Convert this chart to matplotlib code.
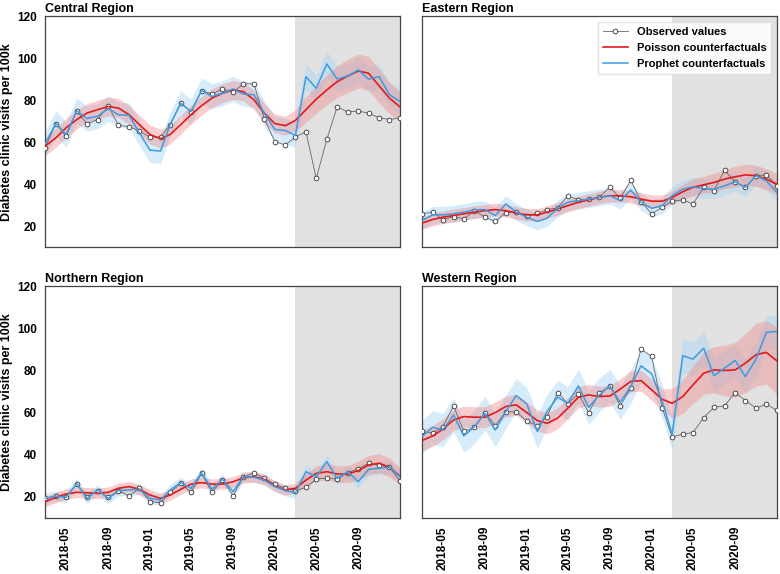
import numpy as np
import pandas as pd
import matplotlib
matplotlib.use("Agg")
import matplotlib.pyplot as plt
import matplotlib.dates as mdates

plt.rcParams['font.family'] = ['Liberation Sans', 'DejaVu Sans']
plt.rcParams['font.weight'] = 'bold'

# monthly dates, 2018-03 .. 2021-01
dates = pd.date_range("2018-03-01", periods=35, freq="MS")
intervention = pd.Timestamp("2020-03-01")
tick_dates = pd.date_range("2018-05-01", "2020-09-01", freq="4MS")

regions = ["Central Region", "Eastern Region", "Northern Region", "Western Region"]

# observed values
central_obs = [57.4, 68.9, 62.8, 75.0, 68.7, 70.8, 77.4, 68.0, 67.5, 65.3, 62.5, 62.5, 68.4, 78.6, 74.6,
               84.6, 82.9, 85.4, 83.8, 87.8, 87.8, 71.3, 60.3, 58.7, 62.6, 65.0, 42.8, 61.4, 76.8, 74.4,
               74.9, 73.8, 71.7, 70.8, 71.6]
eastern_obs = [26.0, 26.8, 23.2, 24.7, 23.6, 27.5, 24.4, 22.4, 26.6, 27.1, 24.9, 26.3, 28.0, 28.8, 34.6,
               32.6, 33.0, 33.8, 38.8, 33.3, 42.0, 31.8, 26.0, 29.1, 32.0, 32.6, 30.7, 38.6, 37.0, 46.7,
               41.2, 38.6, 44.1, 44.5, 39.3]
northern_obs = [19.2, 20.5, 20.0, 26.0, 20.0, 22.9, 19.7, 22.9, 20.3, 24.0, 17.6, 17.1, 22.1, 26.3, 22.1,
                31.1, 22.1, 27.9, 20.5, 29.2, 31.4, 28.7, 26.0, 24.0, 22.9, 24.4, 28.3, 29.0, 28.3, 31.4,
                33.3, 35.9, 35.1, 34.0, 27.5]
western_obs = [51.0, 50.2, 53.3, 63.2, 51.0, 53.0, 60.0, 53.8, 60.5, 60.2, 56.0, 53.7, 58.1, 69.5, 64.3,
               68.9, 60.0, 69.2, 72.7, 63.2, 71.6, 90.2, 86.7, 62.1, 48.3, 49.8, 50.5, 57.6, 62.5, 63.2,
               69.5, 65.7, 62.1, 64.1, 61.0]

# Poisson counterfactuals
central_poisson = [58.2, 62.1, 66.9, 70.8, 73.9, 75.5, 77.0, 76.3, 73.1, 68.4, 63.7, 61.7, 63.7, 68.4, 73.1,
                   77.4, 81.0, 83.3, 84.9, 84.1, 80.2, 73.9, 68.9, 67.9, 70.4, 75.5, 80.5, 84.9, 88.8, 91.5,
                   93.9, 92.8, 86.8, 81.0, 76.8]
eastern_poisson = [21.6, 23.3, 24.4, 25.2, 26.0, 26.8, 27.5, 28.0, 27.5, 26.4, 25.5, 25.5, 26.8, 28.3, 29.9,
                   31.5, 32.6, 33.8, 34.6, 34.6, 34.1, 33.0, 32.0, 32.0, 33.8, 36.5, 38.6, 39.8, 40.9, 42.5,
                   43.6, 44.5, 44.1, 42.5, 40.1]
northern_poisson = [17.6, 19.7, 21.3, 22.1, 21.9, 21.6, 22.1, 24.0, 24.8, 23.5, 20.8, 19.2, 20.8, 23.5, 26.0,
                    26.7, 26.0, 26.0, 27.1, 29.0, 29.5, 28.3, 25.1, 23.2, 24.0, 27.9, 31.1, 31.9, 30.8, 30.8,
                    32.4, 35.1, 35.9, 34.0, 29.8]
western_poisson = [46.7, 48.9, 52.1, 56.5, 58.1, 57.8, 57.8, 60.0, 62.9, 63.7, 60.0, 56.2, 54.9, 57.3, 62.1,
                   67.3, 68.4, 67.6, 67.9, 71.1, 74.8, 75.2, 70.8, 66.3, 64.4, 67.6, 73.2, 78.7, 80.3, 80.0,
                   80.3, 83.5, 87.5, 88.6, 84.6]

# Prophet counterfactuals
central_prophet = [59.3, 69.0, 63.7, 75.0, 71.3, 72.4, 76.0, 73.1, 72.8, 64.5, 56.3, 55.8, 68.4, 78.6, 74.6,
                   84.6, 81.8, 83.3, 85.4, 82.9, 82.6, 73.9, 66.1, 65.6, 63.2, 91.2, 85.7, 97.2, 90.1, 91.5,
                   94.4, 90.0, 91.2, 82.6, 79.4]
eastern_prophet = [22.8, 25.5, 25.5, 26.0, 26.8, 27.9, 28.0, 25.2, 30.7, 26.8, 24.4, 22.4, 23.9, 28.6, 31.5,
                   32.3, 33.0, 33.8, 34.6, 32.3, 37.3, 31.5, 28.6, 29.9, 34.6, 37.7, 38.8, 38.0, 37.7, 39.3,
                   41.2, 38.6, 44.1, 41.7, 36.2]
northern_prophet = [19.2, 20.3, 19.7, 26.3, 19.2, 23.2, 19.2, 22.9, 23.2, 23.5, 19.2, 18.4, 23.2, 26.7, 24.0,
                    31.4, 23.5, 28.3, 22.4, 29.5, 29.2, 27.9, 24.8, 22.9, 21.9, 31.9, 29.5, 36.7, 28.7, 31.9,
                    27.1, 33.0, 33.5, 34.0, 29.5]
western_prophet = [48.6, 53.0, 51.7, 58.9, 48.9, 53.3, 59.7, 51.7, 60.5, 68.1, 64.1, 51.0, 60.5, 67.3, 64.4,
                   72.7, 62.4, 68.4, 72.7, 64.9, 72.4, 82.2, 78.4, 65.2, 49.8, 87.0, 85.4, 90.6, 77.5, 81.1,
                   84.8, 77.1, 85.4, 98.1, 98.6]

# interval half-widths: Poisson (pre scalar, post per month), Prophet (pre, post)
poisson_hw_pre = [4.5, 3.0, 2.5, 5.0]
central_poisson_hw_post = [5.0, 6.0, 6.5, 7.0, 7.5, 8.0, 8.0, 8.0, 8.0, 7.5, 7.0]
eastern_poisson_hw_post = [3.0, 3.5, 4.0, 4.0, 4.5, 4.5, 5.0, 5.0, 5.0, 5.0, 5.0]
northern_poisson_hw_post = [2.5, 3.0, 3.5, 4.0, 4.0, 4.0, 4.5, 4.5, 4.5, 4.5, 4.0]
western_poisson_hw_post = [7.0, 8.0, 9.0, 10.0, 11.0, 12.0, 13.0, 14.0, 15.0, 15.0, 16.0]
prophet_hw = [(6.0, 6.0), (4.0, 4.5), (2.5, 3.0), (8.0, 8.0)]

obs_all = [central_obs, eastern_obs, northern_obs, western_obs]
poisson_all = [central_poisson, eastern_poisson, northern_poisson, western_poisson]
prophet_all = [central_prophet, eastern_prophet, northern_prophet, western_prophet]
poisson_post_all = [central_poisson_hw_post, eastern_poisson_hw_post,
                    northern_poisson_hw_post, western_poisson_hw_post]

red = "#e3191c"
blue = "#3d9be0"

fig, axes = plt.subplots(2, 2, figsize=(7.8, 5.74), dpi=100, sharex=True, sharey=True)
fig.subplots_adjust(left=0.058, right=0.996, top=0.972, bottom=0.098, wspace=0.062, hspace=0.168)

pre = dates < intervention
n_pre = int(pre.sum())

for i, ax in enumerate(axes.flat):
    obs = np.array(obs_all[i])
    pois = np.array(poisson_all[i])
    prop = np.array(prophet_all[i])

    # post-intervention shading
    ax.axvspan(intervention, dates[-1], color="#e1e1e1", lw=0, zorder=0)

    # interval widths
    p_hw = np.concatenate([np.full(n_pre, poisson_hw_pre[i]), poisson_post_all[i]])
    f_hw = np.where(pre, prophet_hw[i][0], prophet_hw[i][1])

    ax.fill_between(dates, prop - f_hw, prop + f_hw, color="#a8d6f5", alpha=0.45, lw=0, zorder=1)
    ax.fill_between(dates, pois - p_hw, pois + p_hw, color="#f08080", alpha=0.38, lw=0, zorder=2)

    ax.plot(dates, obs, color="#666666", lw=0.6, marker="o", ms=3.4, mfc="white",
            mec="#333333", mew=0.6, zorder=3, label="Observed values")
    ax.plot(dates, pois, color=red, lw=1.2, zorder=4, label="Poisson counterfactuals")
    ax.plot(dates, prop, color=blue, lw=1.1, zorder=4, label="Prophet counterfactuals")

    ax.set_title(regions[i], loc="left", fontsize=9, fontweight="bold", pad=3)
    ax.set_xlim(dates[0], dates[-1])
    ax.set_ylim(10, 120)
    ax.set_yticks([20, 40, 60, 80, 100, 120])
    ax.set_xticks(tick_dates)
    ax.xaxis.set_major_formatter(mdates.DateFormatter("%Y-%m"))
    ax.tick_params(length=0, labelsize=8.5, pad=6)
    ax.tick_params(axis="x", rotation=90)
    for lab in ax.get_xticklabels() + ax.get_yticklabels():
        lab.set_fontweight("bold")
    for sp in ax.spines.values():
        sp.set_color("#444444")
        sp.set_linewidth(0.9)

    if i % 2 == 0:
        ax.set_ylabel("Diabetes clinic visits per 100k", fontsize=9, fontweight="bold", labelpad=3)

axes[0, 1].legend(loc="upper right", frameon=True, framealpha=0.85,
                  edgecolor="#dddddd", fancybox=False, borderpad=0.45, handlelength=2.2,
                  labelspacing=0.55, prop={"weight": "bold", "size": 8})

plt.savefig("out.png", dpi=100)
